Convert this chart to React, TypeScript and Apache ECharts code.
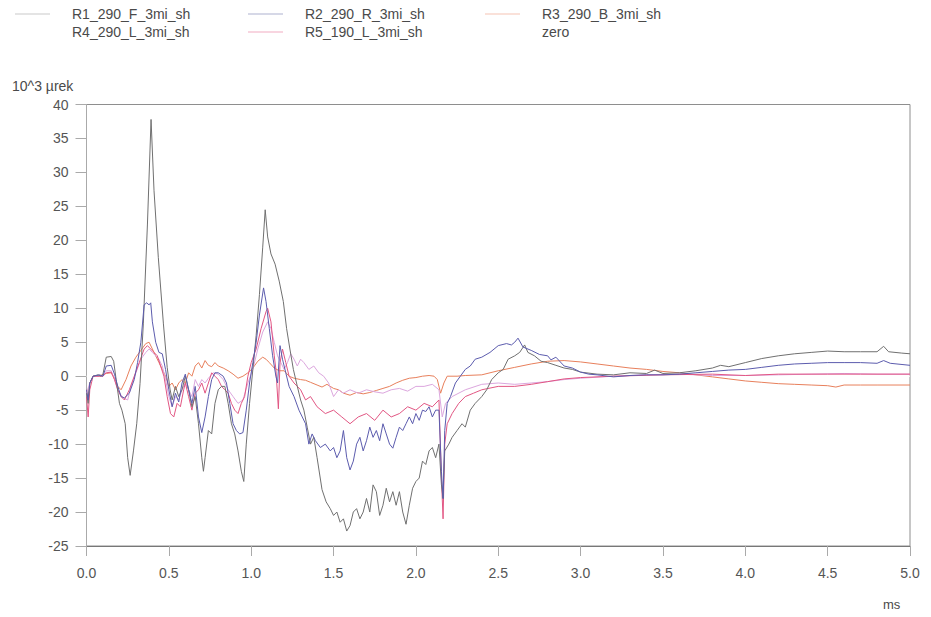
import React, { useEffect, useRef } from "react";
import * as echarts from "echarts";

// ---- Data (time in ms, value in 10^3 µrek) ----
const seriesNames = [
  "R1_290_F_3mi_sh",
  "R2_290_R_3mi_sh",
  "R3_290_B_3mi_sh",
  "R4_290_L_3mi_sh",
  "R5_190_L_3mi_sh",
  "zero",
];

const r1Data: number[][] = [
  [0, -2.5], [0.01, -4], [0.02, -1], [0.04, 0], [0.07, 0.2], [0.09, 0], [0.1, 0.3], [0.12, 2.8], [0.15, 2.9],
  [0.165, 2.2], [0.18, -0.5], [0.2, -4], [0.215, -5], [0.235, -7], [0.25, -12], [0.265, -14.6], [0.285, -11],
  [0.305, -7], [0.325, -1.1], [0.345, 7.7], [0.37, 22.4], [0.392, 37.8], [0.41, 27.3], [0.436, 17.5],
  [0.467, 7.7], [0.49, 1.3], [0.507, -1.9], [0.52, -3.5], [0.54, -1.5], [0.56, -3], [0.58, -2], [0.6, 0],
  [0.62, -2], [0.64, -4.5], [0.66, -3], [0.68, -7], [0.7, -12], [0.71, -14], [0.72, -12], [0.74, -8],
  [0.76, -8.5], [0.78, -4], [0.8, -2], [0.82, -1.5], [0.84, -1.5], [0.86, -4], [0.88, -7], [0.9, -8.5],
  [0.92, -11], [0.94, -14], [0.955, -15.5], [0.97, -10], [0.99, -4], [1.01, 1], [1.03, 6], [1.05, 12],
  [1.07, 19], [1.085, 24.5], [1.1, 20.5], [1.12, 18], [1.145, 16.5], [1.17, 14], [1.195, 11],
  [1.215, 7], [1.235, 4], [1.256, 1], [1.28, -1.5], [1.3, -3.5], [1.32, -5], [1.34, -7.5], [1.36, -10],
  [1.38, -9], [1.4, -12], [1.43, -16.7], [1.455, -18.5], [1.48, -19.5], [1.5, -20.5], [1.52, -20],
  [1.54, -21.5], [1.56, -21], [1.58, -22.8], [1.6, -22], [1.62, -20], [1.64, -19.5], [1.66, -21],
  [1.68, -20], [1.7, -18], [1.72, -20], [1.74, -16], [1.76, -17], [1.78, -20.5], [1.8, -19], [1.82, -16.5],
  [1.84, -18.5], [1.86, -17], [1.88, -19], [1.9, -17], [1.92, -20], [1.94, -21.8], [1.96, -19],
  [1.98, -16.5], [2.0, -15.5], [2.02, -15], [2.04, -12.5], [2.06, -13], [2.08, -11], [2.1, -10.5],
  [2.12, -12], [2.14, -10], [2.155, -16], [2.165, -18], [2.175, -11], [2.2, -10], [2.22, -9], [2.25, -8],
  [2.28, -7], [2.3, -7.5], [2.33, -5], [2.36, -4], [2.4, -3], [2.43, -2], [2.46, -0.5], [2.5, 0.5],
  [2.53, 1], [2.56, 2.5], [2.6, 3], [2.63, 3.5], [2.66, 4.6], [2.68, 3.5], [2.72, 3], [2.76, 2.2],
  [2.8, 2], [2.85, 1.6], [2.9, 1.2], [2.95, 1], [3.0, 0.6], [3.1, 0.3], [3.2, 0.2], [3.3, 0.5], [3.4, 0.4],
  [3.45, 0.9], [3.5, 0.4], [3.6, 0.5], [3.7, 0.8], [3.8, 1.2], [3.85, 1.6], [3.9, 1.4], [4.0, 2.0],
  [4.1, 2.6], [4.2, 3], [4.3, 3.3], [4.4, 3.5], [4.5, 3.7], [4.6, 3.6], [4.7, 3.6], [4.8, 3.6],
  [4.84, 4.4], [4.87, 3.6], [4.95, 3.4], [5.0, 3.3],
];

const r2Data: number[][] = [
  [0, -2], [0.01, -3.5], [0.02, -1], [0.04, 0], [0.08, 0.2], [0.1, 0], [0.12, 1.5], [0.15, 1.6],
  [0.17, 0.3], [0.19, -1.5], [0.21, -3], [0.23, -3.2], [0.26, -2.5], [0.29, -0.5], [0.31, 2], [0.33, 5],
  [0.35, 10.5], [0.365, 10.8], [0.38, 10.5], [0.39, 10.8], [0.4, 8], [0.42, 5], [0.44, 3.5], [0.46, 3.3],
  [0.48, 1], [0.5, -2], [0.52, -4.5], [0.54, -2.5], [0.56, -3.8], [0.58, -1], [0.6, 0.3], [0.62, -2],
  [0.64, -4], [0.66, -1.5], [0.68, -6], [0.7, -8.3], [0.72, -6], [0.74, -3], [0.76, -0.5], [0.78, 0.5],
  [0.8, 0.5], [0.83, 0], [0.85, -1], [0.87, -4], [0.89, -7], [0.91, -8], [0.93, -8.5], [0.95, -8.3],
  [0.97, -5], [0.99, -1], [1.01, 2], [1.03, 5], [1.05, 9], [1.075, 13], [1.09, 11], [1.11, 7], [1.13, 3],
  [1.15, 0], [1.16, -1], [1.175, 4.5], [1.19, 2.5], [1.21, 0.5], [1.23, -1.5], [1.26, -3], [1.29, -5],
  [1.31, -6], [1.33, -7], [1.35, -10], [1.37, -8.5], [1.39, -9.5], [1.42, -10.5], [1.45, -10],
  [1.48, -11], [1.5, -10.5], [1.52, -12], [1.54, -11], [1.56, -8], [1.58, -12], [1.6, -13.8],
  [1.62, -12.5], [1.64, -10], [1.66, -9], [1.68, -11], [1.7, -9.5], [1.72, -7.5], [1.74, -9], [1.76, -8],
  [1.78, -9.5], [1.8, -7], [1.82, -8.5], [1.84, -10], [1.86, -10.6], [1.88, -9], [1.9, -7.5], [1.92, -8],
  [1.94, -7], [1.96, -6], [1.98, -7], [2.0, -5.5], [2.02, -6.5], [2.04, -5], [2.06, -5.2], [2.08, -4.5],
  [2.1, -6], [2.12, -5], [2.14, -5], [2.155, -14], [2.165, -18], [2.175, -8], [2.19, -4], [2.21, -3],
  [2.24, -1], [2.27, 0], [2.3, 1], [2.33, 1.5], [2.36, 2.5], [2.4, 2.8], [2.45, 3.5], [2.5, 4.5],
  [2.55, 4.8], [2.58, 4.6], [2.6, 5], [2.62, 5.6], [2.65, 4.3], [2.7, 3.8], [2.75, 3.2], [2.8, 3],
  [2.82, 2.4], [2.85, 2.8], [2.9, 1.5], [2.95, 1.2], [3.0, 0.6], [3.05, 0.3], [3.1, 0.2], [3.2, -0.1],
  [3.3, 0.1], [3.4, 0.2], [3.5, 0.2], [3.6, 0.3], [3.7, 0.5], [3.8, 0.7], [3.9, 0.9], [4.0, 1.0],
  [4.1, 1.3], [4.2, 1.6], [4.3, 1.8], [4.4, 1.9], [4.5, 2.0], [4.6, 2.0], [4.7, 2.0], [4.8, 1.9],
  [4.84, 2.3], [4.88, 1.9], [5.0, 1.6],
];

const r3Data: number[][] = [
  [0, -2], [0.01, -3.5], [0.02, -1], [0.04, 0], [0.08, 0], [0.1, 0.3], [0.12, 0.4], [0.15, 0.5],
  [0.17, -0.3], [0.19, -1.5], [0.21, -2], [0.24, -0.5], [0.27, 1.5], [0.3, 2.8], [0.33, 3.8], [0.36, 4.8],
  [0.38, 5], [0.4, 4], [0.42, 3], [0.44, 2], [0.46, 1], [0.48, 0], [0.5, -1.5], [0.52, -1], [0.54, -2],
  [0.56, -1], [0.58, -0.5], [0.6, -1], [0.62, 0.5], [0.64, 0], [0.66, 1.5], [0.68, 2], [0.7, 1.2],
  [0.72, 2.3], [0.74, 1.6], [0.76, 1.4], [0.78, 2], [0.8, 1.5], [0.83, 1.2], [0.86, 0.8], [0.89, 0.3],
  [0.92, -0.3], [0.95, 0], [0.98, 0.5], [1.01, 1.2], [1.04, 2.2], [1.07, 2.8], [1.09, 2.5], [1.11, 2],
  [1.14, 1.2], [1.17, 0.8], [1.2, 0.8], [1.23, 0], [1.26, -0.3], [1.3, -0.5], [1.33, -0.6], [1.36, -0.9],
  [1.4, -1.3], [1.43, -1.6], [1.46, -1.2], [1.5, -1.8], [1.53, -2], [1.56, -2.5], [1.6, -2.8],
  [1.64, -2.4], [1.68, -2.6], [1.72, -2.4], [1.76, -2.1], [1.8, -1.8], [1.84, -1.5], [1.88, -1.0],
  [1.92, -0.6], [1.96, -0.3], [2.0, -0.2], [2.04, 0], [2.08, 0.1], [2.11, 0], [2.13, -0.5], [2.15, -2.5],
  [2.17, -1], [2.19, 0], [2.25, 0], [2.3, 0.1], [2.4, 0.2], [2.5, 0.8], [2.6, 1.3], [2.7, 1.8], [2.8, 2.2],
  [2.9, 2.3], [3.0, 2.1], [3.1, 1.8], [3.2, 1.5], [3.3, 1.2], [3.4, 1.0], [3.5, 0.7], [3.6, 0.5],
  [3.7, 0.2], [3.8, -0.1], [3.9, -0.4], [4.0, -0.7], [4.1, -0.9], [4.2, -1.1], [4.3, -1.2], [4.4, -1.3],
  [4.5, -1.4], [4.55, -1.6], [4.6, -1.3], [4.7, -1.3], [4.8, -1.3], [5.0, -1.3],
];

const r4Data: number[][] = [
  [0, -2.5], [0.02, -1], [0.04, 0], [0.1, 0], [0.12, 0.8], [0.15, 0.8], [0.17, -0.5], [0.19, -2],
  [0.21, -2.8], [0.23, -3.3], [0.25, -3.5], [0.27, -1.5], [0.3, 0.5], [0.33, 2.5], [0.36, 3.5], [0.38, 4],
  [0.4, 3.5], [0.42, 3], [0.44, 2.5], [0.46, 1.5], [0.48, -0.5], [0.5, -3], [0.52, -4.5], [0.54, -3],
  [0.56, -3.5], [0.58, -2], [0.6, -1], [0.62, -2], [0.64, -3], [0.66, -0.5], [0.68, -1.5], [0.7, -0.5],
  [0.72, -1], [0.74, -0.3], [0.77, 0.5], [0.8, 0.3], [0.83, -0.5], [0.86, -2], [0.89, -3], [0.92, -4],
  [0.95, -3.5], [0.98, -1], [1.01, 1], [1.04, 4], [1.07, 6.5], [1.1, 8], [1.12, 7], [1.14, 5], [1.16, 3],
  [1.18, 2], [1.2, 1], [1.22, 2], [1.24, 3.3], [1.26, 2.5], [1.28, 1.5], [1.3, 2.5], [1.32, 2], [1.35, 1],
  [1.38, 1.5], [1.41, 0.5], [1.44, 0], [1.47, -1], [1.5, -3], [1.53, -2], [1.56, -2.5], [1.6, -2],
  [1.65, -2.5], [1.7, -2], [1.75, -2.3], [1.8, -2.5], [1.85, -2], [1.9, -1.8], [1.95, -2.2], [2.0, -1.5],
  [2.05, -1.5], [2.1, -1.2], [2.14, -2], [2.16, -6], [2.18, -4], [2.22, -3], [2.3, -2], [2.4, -1.2],
  [2.5, -1], [2.6, -1.2], [2.7, -1], [2.8, -0.8], [2.9, -0.5], [3.0, -0.3], [3.2, 0], [3.4, 0.2],
  [3.6, 0.3], [3.8, 0.1], [4.0, 0.1], [4.2, 0.2], [4.4, 0.3], [4.6, 0.4], [4.8, 0.3], [5.0, 0.3],
];

const r5Data: number[][] = [
  [0, -3], [0.01, -6], [0.02, -2], [0.04, 0], [0.08, 0], [0.1, 0], [0.12, 0.5], [0.15, 0.6], [0.17, -0.5],
  [0.19, -2], [0.21, -3], [0.23, -3.5], [0.26, -2], [0.29, 0], [0.32, 2], [0.35, 4], [0.37, 4.5],
  [0.39, 4], [0.41, 3.5], [0.43, 3], [0.45, 1.5], [0.47, 0], [0.49, -3], [0.51, -5.5], [0.53, -6],
  [0.55, -4], [0.57, -4.5], [0.59, -2], [0.6, -1], [0.62, -3], [0.64, -5], [0.66, -2.5], [0.68, -2],
  [0.7, -1], [0.72, -2.5], [0.74, -1], [0.76, 0.5], [0.78, 0], [0.8, -0.5], [0.82, -1.5], [0.84, -2],
  [0.86, -2.5], [0.88, -4], [0.9, -5], [0.92, -5.5], [0.94, -4], [0.96, -3], [0.98, 0], [1.0, 2],
  [1.03, 4], [1.06, 7], [1.09, 9.5], [1.1, 10], [1.12, 8], [1.14, 3], [1.15, 1], [1.165, -4.8],
  [1.175, 2], [1.19, 4], [1.21, 2], [1.23, 0], [1.26, -1], [1.3, -2], [1.33, -3.5], [1.36, -3],
  [1.4, -4.5], [1.45, -5.5], [1.5, -5], [1.55, -6], [1.6, -7], [1.65, -6], [1.7, -5.5], [1.75, -6.5],
  [1.8, -5], [1.85, -6], [1.9, -5.5], [1.95, -4.5], [2.0, -5], [2.05, -4], [2.1, -4.5], [2.14, -3.5],
  [2.155, -15], [2.165, -21], [2.175, -10], [2.19, -7], [2.22, -5.5], [2.26, -4], [2.3, -3],
  [2.35, -2.5], [2.4, -2], [2.5, -1.5], [2.6, -1.5], [2.7, -1.2], [2.8, -0.8], [2.9, -0.4], [3.0, -0.2],
  [3.2, 0], [3.5, 0.2], [3.8, 0.3], [4.0, 0.1], [4.2, 0.3], [4.5, 0.3], [4.7, 0.3], [5.0, 0.3],
];

const zeroData: number[][] = [
  [0, 0], [5, 0],
];

const allData = [r1Data, r2Data, r3Data, r4Data, r5Data, zeroData];

// ---- Styles ----
const lineColors = ["#707070", "#5c5cae", "#e8805c", "#dca6de", "#e25683", "#ffffff"];
const legendColors = ["#c9c9c9", "#aeb2cf", "#f5c4b4", "#ffffff", "#f2abc2", "#ffffff"];
const legendLeft = [15, 248, 485, 15, 248, 485];
const legendTop = [7, 7, 7, 25, 25, 25];

const FONT = "'Liberation Sans', Arial, sans-serif";

export default function App() {
  const ref = useRef<HTMLDivElement>(null);

  useEffect(() => {
    if (!ref.current) return;
    const chart = echarts.init(ref.current, undefined, { renderer: "svg" });

    const option: any = {
      animation: false,
      backgroundColor: "#ffffff",
      textStyle: { fontFamily: FONT },
      grid: {
        left: 86.5,
        right: 21,
        top: 104.5,
        bottom: 71,
        show: true,
        borderColor: "#8e8e8e",
        borderWidth: 1,
      },
      legend: seriesNames.map((name, i) => ({
        data: [
          {
            name,
            icon: "rect",
            itemStyle: { color: legendColors[i] },
          },
        ],
        left: legendLeft[i],
        top: legendTop[i],
        itemWidth: 35,
        itemHeight: 1,
        selectedMode: false,
        padding: 0,
        textStyle: {
          fontFamily: FONT,
          fontSize: 14,
          color: "#4a4a4a",
          padding: [0, 0, 0, 17],
        },
      })),
      graphic: [
        {
          type: "text",
          left: 12,
          top: 79,
          style: { text: "10^3 µrek", font: `14px ${FONT}`, fill: "#4a4a4a" },
        },
        {
          type: "text",
          left: 883,
          top: 598,
          style: { text: "ms", font: `13px ${FONT}`, fill: "#4a4a4a" },
        },
      ],
      xAxis: {
        type: "value",
        min: 0,
        max: 5,
        interval: 0.5,
        axisLine: { show: true, onZero: false, lineStyle: { color: "#777777", width: 1 } },
        axisTick: { show: true, length: 10, lineStyle: { color: "#aaaaaa" } },
        splitLine: { show: false },
        axisLabel: {
          margin: 20,
          fontSize: 14,
          color: "#555555",
          fontFamily: FONT,
          formatter: (v: number) => v.toFixed(1),
        },
      },
      yAxis: {
        type: "value",
        min: -25,
        max: 40,
        interval: 5,
        axisLine: { show: true, onZero: false, lineStyle: { color: "#aaaaaa", width: 1 } },
        axisTick: { show: true, length: 11, lineStyle: { color: "#aaaaaa" } },
        splitLine: { show: false },
        axisLabel: {
          margin: 18,
          fontSize: 14,
          color: "#555555",
          fontFamily: FONT,
        },
      },
      series: seriesNames.map((name, i) => ({
        name,
        type: "line",
        data: allData[i],
        symbol: "none",
        showSymbol: false,
        z: name === "zero" ? 1 : 2 + (i === 0 || i === 1 ? 3 : 0),
        lineStyle: { color: lineColors[i], width: 1 },
        itemStyle: { color: lineColors[i] },
        emphasis: { disabled: true },
      })),
    };

    chart.setOption(option);
    return () => chart.dispose();
  }, []);

  return (
    <div
      ref={ref}
      style={{ position: "fixed", left: 0, top: 0, width: 931, height: 617 }}
    />
  );
}
